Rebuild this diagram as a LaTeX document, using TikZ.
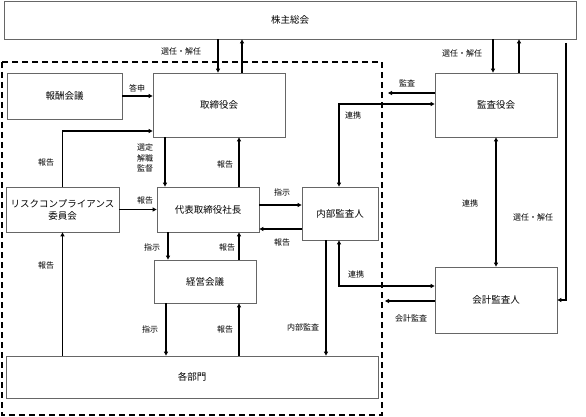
\documentclass[tikz,border=0pt]{standalone}
\usepackage{fontspec}
\setmainfont{Noto Sans CJK JP}
\usetikzlibrary{arrows.meta}
\begin{document}
\begin{tikzpicture}[x=1pt,y=-1pt,
  box/.style={draw=black!60, line width=0.8pt, fill=white, inner sep=0pt, align=center, font=\fontsize{9.5}{12}\selectfont},
  lbl/.style={font=\fontsize{8}{10.5}\selectfont, inner sep=0pt, align=center},
  arr/.style={line width=1.3pt, -{Triangle[length=4pt,width=4pt]}},
  arrb/.style={line width=1.3pt, {Triangle[length=4pt,width=4pt]}-{Triangle[length=4pt,width=4pt]}},
  dashbox/.style={line width=1.8pt, dash pattern=on 6pt off 4pt}
]
\useasboundingbox (0,0) rectangle (586,417);
\fill[white] (0,0) rectangle (586,417);
% company boundary
\draw[dashbox] (2,62) rectangle (382,415);
% boxes
\node[box, minimum width=572pt, minimum height=38pt] (kabu) at (290,20) {株主総会};
\node[box, minimum width=115pt, minimum height=46pt] (hoshu) at (64.5,96) {報酬会議};
\node[box, minimum width=132pt, minimum height=64pt] (tori) at (219,105) {取締役会};
\node[box, minimum width=122pt, minimum height=64pt] (kansa) at (496,105) {監査役会};
\node[box, minimum width=113pt, minimum height=45pt] (risk) at (62.5,209.5) {リスクコンプライアンス\\委員会};
\node[box, minimum width=102pt, minimum height=45pt] (daihyo) at (208,209.5) {代表取締役社長};
\node[box, minimum width=76pt, minimum height=53pt] (naibu) at (340,213.5) {内部監査人};
\node[box, minimum width=102pt, minimum height=43pt] (keiei) at (205,281.5) {経営会議};
\node[box, minimum width=122pt, minimum height=66pt] (kaikei) at (496,300) {会計監査人};
\node[box, minimum width=372pt, minimum height=42pt] (kakubu) at (192,377) {各部門};
% shareholders <-> board
\draw[arr] (kabu.south -| 218,0) -- (tori.north -| 218,0);
\draw[arr] (tori.north -| 242,0) -- (kabu.south -| 242,0);
\node[lbl] (l1) at (181,51) {選任・解任};
% shareholders <-> auditors
\draw[arr] (kabu.south -| 493,0) -- (kansa.north -| 493,0);
\draw[arr] (kansa.north -| 519,0) -- (kabu.south -| 519,0);
\node[lbl] (l2) at (462,53) {選任・解任};
\coordinate (rt) at (566,43);
\draw[arr] (rt) |- (kaikei.east);
\node[lbl] (l3) at (533,217) {選任・解任};
% remuneration
\draw[arr] (hoshu.east) -- (tori.west |- hoshu.east);
\node[lbl] (l4) at (137,88) {答申};
% risk -> board
\draw[arr] (risk.north) |- (tori.west |- 0,131);
\node[lbl] (l5) at (46,162) {報告};
\draw[arr] (kakubu.north -| risk.north) -- (risk.south);
\node[lbl] (l6) at (46,265) {報告};
% board <-> president
\draw[arr] (tori.south -| 165,0) -- (daihyo.north -| 165,0);
\node[lbl] (l7) at (145,158) {選定\\解職\\監督};
\draw[arr] (daihyo.north -| 239,0) -- (tori.south -| 239,0);
\node[lbl] (l8) at (225,164) {報告};
\draw[arr] (risk.east) -- (daihyo.west);
\node[lbl] (l9) at (145,200) {報告};
% president <-> internal auditor
\draw[arr] (daihyo.east |- 0,205) -- (naibu.west |- 0,205);
\node[lbl] (l10) at (282,192) {指示};
\draw[arr] (naibu.west |- 0,229) -- (daihyo.east |- 0,229);
\node[lbl] (l11) at (282,242) {報告};
% president <-> management
\draw[arr] (daihyo.south -| 168,0) -- (keiei.north -| 168,0);
\node[lbl] (l12) at (152,247) {指示};
\draw[arr] (keiei.north -| 239,0) -- (daihyo.south -| 239,0);
\node[lbl] (l13) at (227,247) {報告};
% management <-> departments
\draw[arr] (keiei.south -| 166,0) -- (kakubu.north -| 166,0);
\node[lbl] (l14) at (150,329) {指示};
\draw[arr] (kakubu.north -| 239,0) -- (keiei.south -| 239,0);
\node[lbl] (l15) at (225,329) {報告};
% internal audit
\draw[arr] (naibu.south -| 326,0) -- (kakubu.north -| 326,0);
\node[lbl] (l16) at (303,327) {内部監査};
\draw[arrb] (naibu.south -| 339,0) |- (kaikei.west |- 0,286);
\node[lbl] (l17) at (356,274) {連携};
\coordinate (kt) at (385,301);
\draw[arr] (kaikei.west |- kt) -- (kt);
\node[lbl] (l18) at (411,318) {会計監査};
\coordinate (ka) at (388,93);
\draw[arr] (kansa.west |- ka) -- (ka);
\node[lbl] (l19) at (407,83) {監査};
\draw[arrb] (naibu.north -| 339,0) |- (kansa.west |- 0,104);
\node[lbl] (l20) at (353,115) {連携};
\draw[arrb] (kansa.south) -- (kaikei.north);
\node[lbl] (l21) at (470,203) {連携};
\end{tikzpicture}
\end{document}
